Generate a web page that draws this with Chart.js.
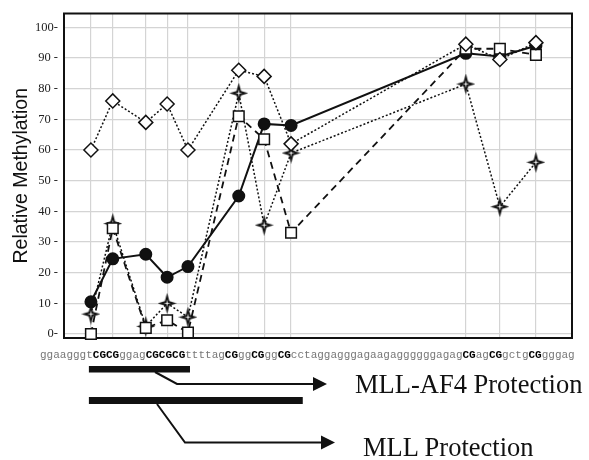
<!DOCTYPE html>
<html>
<head>
<meta charset="utf-8">
<script src="https://cdn.jsdelivr.net/npm/chart.js@4"></script>
<style>
body { margin: 0; background: #fff; }
#wrap { position: relative; width: 589px; height: 460px; }
#seq { position: absolute; left: 40px; top: 350px; font: 11px/11px "Liberation Mono", monospace; color: #777; white-space: pre; }
#seq b { color: #000; }
.lbl { position: absolute; font: 26.5px/27px "Liberation Serif", serif; color: #111; white-space: nowrap; }
</style>
</head>
<body>
<div id="wrap">
  <canvas id="meth"></canvas>
  <div id="seq"></div>
  <div class="lbl" style="left:355px;top:371px">MLL-AF4 Protection</div>
  <div class="lbl" style="left:363px;top:434px">MLL Protection</div>
</div>
<script>
// CpG sites, placed along the sequence (0-100 across the plot)
const cpgPos = [5.3, 9.6, 16.1, 20.3, 24.4, 34.4, 39.4, 44.7, 79.1, 85.8, 92.9]

const circles  = [10.5, 24.5, 26, 18.5, 22, 45, 68.5, 68, 91.5, 90.5, 94]
const diamonds = [60, 76, 69, 75, 60, 86, 84, 62, 94.5, 89.5, 95]
const squares  = [0, 34.5, 2, 4.5, 0.5, 71, 63.5, 33, 93, 93, 91]
const stars    = [6.5, 36, 2.5, 10, 5.5, 78.5, 35.5, 59, 81.5, 41.5, 56]

const yTicks = [0, 10, 20, 30, 40, 50, 60, 70, 80, 90, 100]
const yTickLabels = ["0-", "10 -", "20 -", "30 -", "40 -", "50 -", "60 -", "70 -", "80 -", "90 -", "100-"]

const sequence = "ggaagggtCGCGggagCGCGCGttttagCGggCGggCGcctaggagggagaagaggggggagagCGagCGgctgCGgggag"

// protected regions, in the same x units as cpgPos
const af4Region = [4.9, 24.8]
const mllRegion = [4.9, 47.0]

document.getElementById("seq").innerHTML = sequence.replace(/CG/g, "<b>CG</b>")

function pts(vals) {
    return cpgPos.map((x, i) => ({x, y: vals[i]}))
}

function starImg(w, h) {
    const c = document.createElement("canvas")
    c.width = w
    c.height = h
    const g = c.getContext("2d")
    const mx = w / 2, my = h / 2
    const star = (s, r, fill) => {
        g.beginPath()
        for (let k = 0; k < 8; k++) {
            const a = -Math.PI / 2 + k * Math.PI / 4
            const rx = k % 2 ? r : mx * s
            const ry = k % 2 ? r : my * s
            g.lineTo(mx + rx * Math.cos(a), my + ry * Math.sin(a))
        }
        g.closePath()
        g.fillStyle = fill
        g.fill()
    }
    star(1, 3.2, "#111")
    star(0.38, 0.8, "#fff")
    return c
}

const frame = {
    id: "frame",
    beforeDatasetsDraw(chart) {
        const {ctx, chartArea: a} = chart
        ctx.save()
        ctx.strokeStyle = "#111"
        ctx.lineWidth = 2
        ctx.strokeRect(a.left, a.top, a.right - a.left, a.bottom - a.top)
        ctx.restore()
    }
}

function arrow(ctx, pts, tipX) {
    ctx.beginPath()
    ctx.moveTo(pts[0][0], pts[0][1])
    for (const p of pts.slice(1)) ctx.lineTo(p[0], p[1])
    ctx.stroke()
    const y = pts[pts.length - 1][1]
    const bx = pts[pts.length - 1][0]
    ctx.beginPath()
    ctx.moveTo(bx, y - 7)
    ctx.lineTo(tipX, y)
    ctx.lineTo(bx, y + 7)
    ctx.closePath()
    ctx.fill()
}

const protection = {
    id: "protection",
    afterDraw(chart) {
        const {ctx} = chart
        const x = chart.scales.x
        ctx.save()
        ctx.fillStyle = "#111"
        ctx.strokeStyle = "#111"
        ctx.lineWidth = 2
        const a0 = x.getPixelForValue(af4Region[0]), a1 = x.getPixelForValue(af4Region[1])
        ctx.fillRect(a0, 366, a1 - a0, 6.5)
        const m0 = x.getPixelForValue(mllRegion[0]), m1 = x.getPixelForValue(mllRegion[1])
        ctx.fillRect(m0, 397, m1 - m0, 7)
        arrow(ctx, [[155, 372], [177, 384], [313, 384]], 327)
        arrow(ctx, [[157, 404], [185, 442.5], [321, 442.5]], 335)
        ctx.restore()
    }
}

const gridCol = "#d4d4d4"

new Chart(document.getElementById("meth"), {
    type: "line",
    data: {
        datasets: [
            {
                data: pts(diamonds),
                borderColor: "#111",
                borderWidth: 1.5,
                borderDash: [2, 2],
                pointStyle: "rectRot",
                pointRadius: 7,
                pointBackgroundColor: "#fff",
                pointBorderColor: "#111",
                pointBorderWidth: 1.5
            },
            {
                data: pts(squares),
                borderColor: "#111",
                borderWidth: 1.8,
                borderDash: [7, 5],
                pointStyle: "rect",
                pointRadius: 7.5,
                pointBackgroundColor: "#fff",
                pointBorderColor: "#111",
                pointBorderWidth: 1.5
            },
            {
                data: pts(stars),
                borderColor: "#111",
                borderWidth: 1.5,
                borderDash: [2, 2],
                pointStyle: starImg(19, 21)
            },
            {
                data: pts(circles),
                borderColor: "#111",
                borderWidth: 2,
                pointStyle: "circle",
                pointRadius: 5.5,
                pointBackgroundColor: "#111",
                pointBorderColor: "#111"
            }
        ]
    },
    options: {
        responsive: true,
        maintainAspectRatio: false,
        animation: false,
        devicePixelRatio: 1,
        clip: false,
        layout: {padding: {top: 11, right: 17, bottom: 122, left: 0}},
        elements: {line: {tension: 0, fill: false}},
        scales: {
            x: {
                type: "linear",
                min: 0,
                max: 100,
                afterBuildTicks: s => { s.ticks = cpgPos.map(v => ({value: v})) },
                afterFit: s => { s.height = 0 },
                ticks: {display: false},
                grid: {color: gridCol, lineWidth: 1.2, drawTicks: false},
                border: {display: false}
            },
            y: {
                min: -1.3,
                max: 104.5,
                afterBuildTicks: s => { s.ticks = yTicks.map(v => ({value: v})) },
                afterFit: s => { s.width = 64 },
                ticks: {
                    callback: v => yTickLabels[yTicks.indexOf(v)],
                    font: {family: "Liberation Serif", size: 12.5},
                    color: "#222",
                    padding: 6
                },
                grid: {color: gridCol, lineWidth: 1.2, drawTicks: false},
                border: {display: false},
                title: {
                    display: true,
                    text: "Relative Methylation",
                    font: {family: "Liberation Sans", size: 19.5},
                    color: "#111",
                    padding: {top: 10, bottom: 0}
                }
            }
        },
        plugins: {
            legend: {display: false},
            tooltip: {enabled: false}
        }
    },
    plugins: [frame, protection]
})
</script>
</body>
</html>
